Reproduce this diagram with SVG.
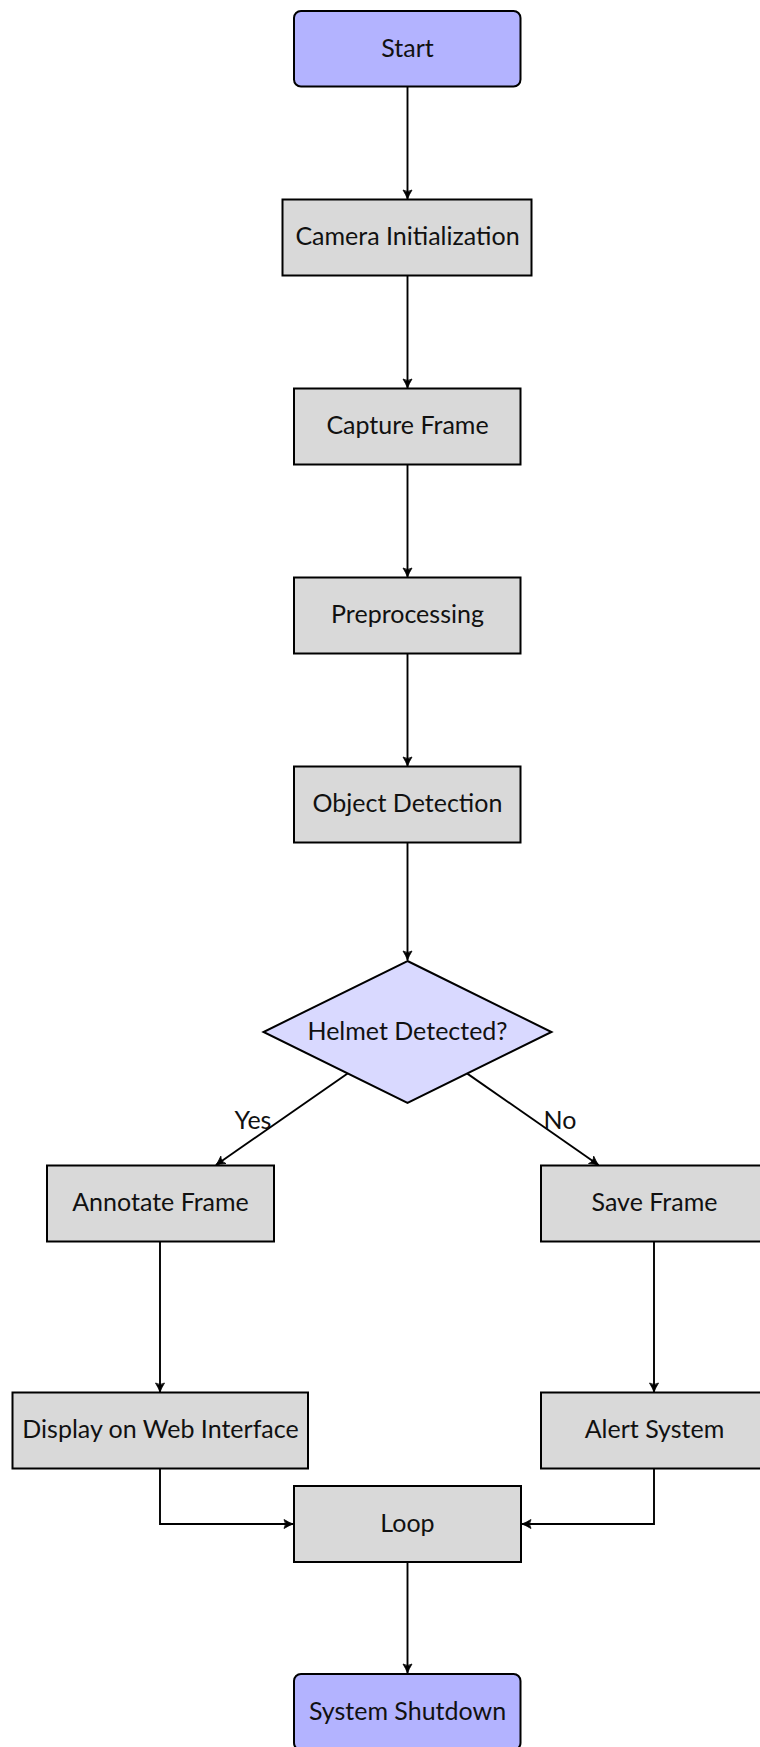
<svg xmlns="http://www.w3.org/2000/svg" width="760" height="1747" viewBox="0 0 760 1747">
<style>
.t{font-family:"Lato","Liberation Sans",sans-serif;font-size:25px;fill:#111;text-anchor:middle;dominant-baseline:central}
.term{fill:#b3b3ff;stroke:#000;stroke-width:2}
.proc{fill:#d9d9d9;stroke:#000;stroke-width:2}
.dec{fill:#d9d9ff;stroke:#000;stroke-width:2}
.c{fill:none;stroke:#000;stroke-width:1.9}
</style>
<defs>
<marker id="ah" markerUnits="userSpaceOnUse" markerWidth="14" markerHeight="14" viewBox="-10 -7 12 14" refX="0" refY="0" orient="auto">
<path d="M-9,-4.5 Q-4,-1.5 0,0 Q-4,1.5 -9,4.5 Q-6,0 -9,-4.5 Z" fill="#000" stroke="#000" stroke-width="0.8" stroke-linejoin="round"/>
</marker>
</defs>
<rect width="760" height="1747" fill="#fff"/>
<g id="connectors">
<line class="c" x1="407.5" y1="87" x2="407.5" y2="199" marker-end="url(#ah)"/>
<line class="c" x1="407.5" y1="276" x2="407.5" y2="388" marker-end="url(#ah)"/>
<line class="c" x1="407.5" y1="465" x2="407.5" y2="577" marker-end="url(#ah)"/>
<line class="c" x1="407.5" y1="654" x2="407.5" y2="766" marker-end="url(#ah)"/>
<line class="c" x1="407.5" y1="843" x2="407.5" y2="960" marker-end="url(#ah)"/>
<line class="c" x1="347.6" y1="1073.5" x2="216" y2="1165" marker-end="url(#ah)"/>
<line class="c" x1="467.3" y1="1073.6" x2="598.5" y2="1165" marker-end="url(#ah)"/>
<line class="c" x1="160" y1="1242" x2="160" y2="1392" marker-end="url(#ah)"/>
<line class="c" x1="654" y1="1242" x2="654" y2="1392" marker-end="url(#ah)"/>
<polyline class="c" points="160,1469 160,1524 293,1524" marker-end="url(#ah)"/>
<polyline class="c" points="654,1469 654,1524 522,1524" marker-end="url(#ah)"/>
<line class="c" x1="407.5" y1="1562" x2="407.5" y2="1673" marker-end="url(#ah)"/>
<text class="t" x="253" y="1119">Yes</text>
<text class="t" x="560" y="1119">No</text>
</g>
<g id="start"><rect class="term" x="294" y="11" width="226.5" height="75.5" rx="7"/><text class="t" x="407.5" y="46.5">Start</text></g>
<g id="camera"><rect class="proc" x="282.5" y="199.5" width="249" height="76"/><text class="t" x="407.5" y="235">Camera Initialization</text></g>
<g id="capture"><rect class="proc" x="294" y="388.5" width="226.5" height="76"/><text class="t" x="407.5" y="424">Capture Frame</text></g>
<g id="preprocessing"><rect class="proc" x="294" y="577.5" width="226.5" height="76"/><text class="t" x="407.5" y="613">Preprocessing</text></g>
<g id="detection"><rect class="proc" x="294" y="766.5" width="226.5" height="76"/><text class="t" x="407.5" y="802">Object Detection</text></g>
<g id="decision"><polygon class="dec" points="407.5,961 551.5,1032 407.5,1103 263.5,1032"/><text class="t" x="407.5" y="1029.5">Helmet Detected?</text></g>
<g id="annotate"><rect class="proc" x="47" y="1165.5" width="227" height="76"/><text class="t" x="160.5" y="1201">Annotate Frame</text></g>
<g id="save"><rect class="proc" x="541" y="1165.5" width="227" height="76"/><text class="t" x="654.5" y="1201">Save Frame</text></g>
<g id="display"><rect class="proc" x="12.5" y="1392.5" width="295.5" height="76"/><text class="t" x="160.5" y="1428">Display on Web Interface</text></g>
<g id="alert"><rect class="proc" x="541" y="1392.5" width="227" height="76"/><text class="t" x="654.5" y="1428">Alert System</text></g>
<g id="loop"><rect class="proc" x="294" y="1486" width="227" height="76"/><text class="t" x="407.5" y="1521.5">Loop</text></g>
<g id="shutdown"><rect class="term" x="294" y="1674" width="226.5" height="76" rx="7"/><text class="t" x="407.5" y="1709.5">System Shutdown</text></g>
</svg>
